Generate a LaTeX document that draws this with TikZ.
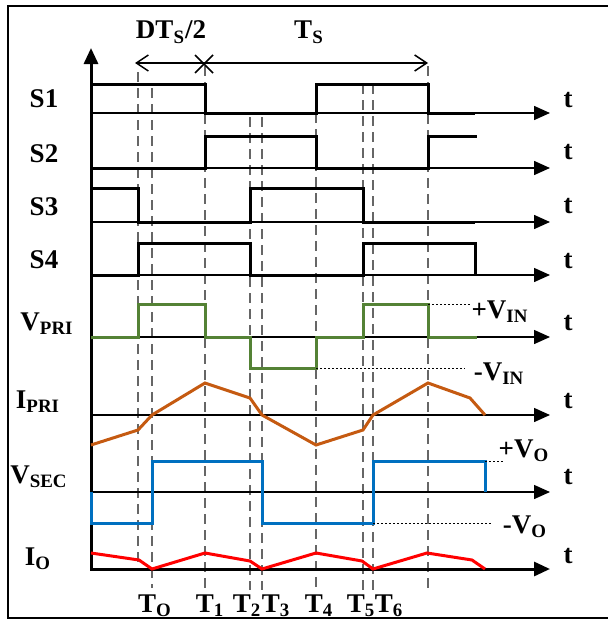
\documentclass[tikz,border=0pt]{standalone}
\usepackage{fontspec}
\setmainfont{Liberation Serif}
\usetikzlibrary{arrows.meta}

\definecolor{vpri}{RGB}{84,130,53}
\definecolor{ipri}{RGB}{197,90,17}
\definecolor{vsec}{RGB}{0,112,192}
\definecolor{iout}{RGB}{255,0,0}

\begin{document}
\begin{tikzpicture}[
  x=0.5pt, y=-0.5pt,
  font=\bfseries\fontsize{13.5}{15}\selectfont,
  axis/.style={line width=0.75pt, -{Triangle[length=8pt,width=7pt]}},
  sigline/.style={line width=1.5pt, line join=miter},
  guide/.style={black!60, line width=0.6pt, dash pattern=on 5pt off 3pt},
  level/.style={line width=0.5pt, dash pattern=on 1pt off 1pt},
  lbl/.style={inner sep=0pt, anchor=base}
]
  \useasboundingbox (0,0) rectangle (608,621);
  \draw[line width=1pt] (610,6) -- (8,6) -- (8,618) -- (610,618);

  % time marks
  \foreach \x/\ya/\yb in {138/72/569, 152/88/588, 205/66/588, 250/117/590, 262/117/590,
                          316/113/590, 363/84/590, 373/84/590, 428/66/590}
    \draw[guide] (\x,\ya) -- (\x,\yb);

  % main axes
  \draw[line width=1.5pt, {Triangle[length=8pt,width=7pt]}-{Triangle[length=8pt,width=7pt]}]
    (91,48) -- (91,569) -- (550,569);
  \foreach \y in {113,168,222,275,337,415,492}
    \draw[axis] (91,\y) -- (550,\y);
  \foreach \y/\n in {107/1,159/2,213/3,268/4,330/5,408/6,484/7,563/8}
    \node[lbl] (t\n) at (568,\y) {t};

  % DTs/2 and Ts
  \coordinate (dimL) at (135,63);
  \coordinate (dimR) at (428,63);
  \draw[line width=0.75pt, {Straight Barb[length=6pt,width=8pt]}-{Straight Barb[length=6pt,width=8pt]}]
    (dimL) -- (dimR);
  \draw[line width=0.75pt] (195,55) -- (213,73) (195,73) -- (213,55);
  \node[lbl] (dts) at (171,39) {DT\textsubscript{S}/2};
  \node[lbl] (ts) at (309,39) {T\textsubscript{S}};

  % gate signals
  \draw[sigline] (91,84) -- (205,84) -- (205,113) -- (316,113) -- (316,84) -- (428,84) -- (428,113) -- (475,113);
  \draw[sigline] (91,168) -- (205,168) -- (205,136) -- (316,136) -- (316,168) -- (428,168) -- (428,136) -- (477,136);
  \draw[sigline] (91,188) -- (138,188) -- (138,222) -- (250,222) -- (250,188) -- (363,188) -- (363,222) -- (475,222);
  \draw[sigline] (91,275) -- (138,275) -- (138,243) -- (250,243) -- (250,275) -- (363,275) -- (363,243) -- (475,243) -- (475,275);

  % primary voltage and current
  \draw[sigline, vpri] (91,337) -- (138,337) -- (138,304) -- (205,304) -- (205,337) -- (250,337) -- (250,368)
    -- (316,368) -- (316,337) -- (363,337) -- (363,304) -- (428,304) -- (428,337) -- (477,337);
  \draw[level] (428,304) -- (470,304);
  \draw[level] (316,368) -- (465,368);
  \draw[sigline, ipri] (91,445) -- (138,430) -- (152,415) -- (205,383) -- (250,398) -- (262,415) -- (316,445)
    -- (363,430) -- (373,415) -- (428,383) -- (470,398) -- (485,415);

  % secondary voltage and output current
  \draw[sigline, vsec] (91,492) -- (91,523) -- (152,523) -- (152,461) -- (262,461) -- (262,523) -- (373,523)
    -- (373,461) -- (485,461) -- (485,492);
  \draw[level] (485,461) -- (503,461);
  \draw[level] (373,523) -- (493,523);
  \draw[sigline, iout] (91,553) -- (139,560) -- (152,569) -- (205,553) -- (250,561) -- (262,569) -- (316,553)
    -- (362,561) -- (373,569) -- (427,553) -- (472,560) -- (485,569);

  \node[lbl] (vinp) at (500,318) {+V\textsubscript{IN}};
  \node[lbl] (vinm) at (499,380) {-V\textsubscript{IN}};
  \node[lbl] (vop) at (524,457) {+V\textsubscript{O}};
  \node[lbl] (vom) at (525,533) {-V\textsubscript{O}};

  % signal names
  \node[lbl] (nS1) at (44,107) {S1};
  \node[lbl] (nS2) at (44,162) {S2};
  \node[lbl] (nS3) at (44,215) {S3};
  \node[lbl] (nS4) at (44,268) {S4};
  \node[lbl] (nVpri) at (47,330) {V\textsubscript{PRI}};
  \node[lbl] (nIpri) at (38,408) {I\textsubscript{PRI}};
  \node[lbl] (nVsec) at (39,483) {V\textsubscript{SEC}};
  \node[lbl] (nIo) at (38,565) {I\textsubscript{O}};

  % instants
  \node[lbl] (T0) at (155,612) {T\textsubscript{O}};
  \node[lbl] (T1) at (210,612) {T\textsubscript{1}};
  \node[lbl] (T2) at (247,612) {T\textsubscript{2}};
  \node[lbl] (T3) at (276,612) {T\textsubscript{3}};
  \node[lbl] (T4) at (319,612) {T\textsubscript{4}};
  \node[lbl] (T5) at (361,612) {T\textsubscript{5}};
  \node[lbl] (T6) at (389,612) {T\textsubscript{6}};
\end{tikzpicture}
\end{document}
